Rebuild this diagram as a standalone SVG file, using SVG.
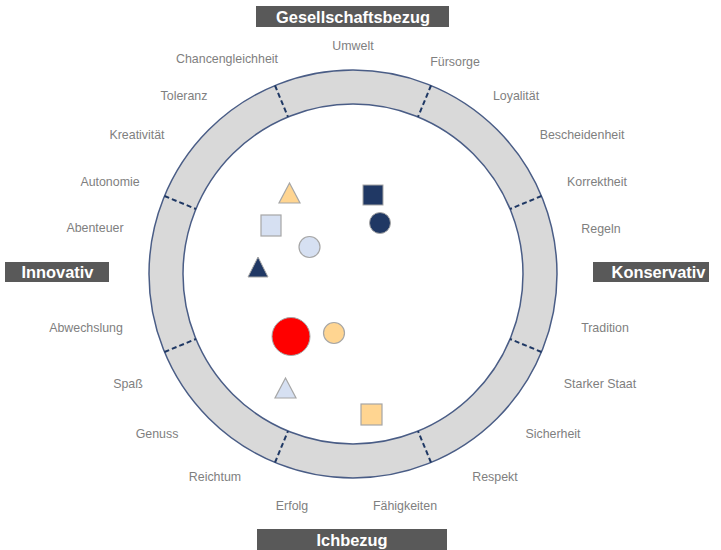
<svg xmlns="http://www.w3.org/2000/svg" width="721" height="550" viewBox="0 0 721 550">
<style>
.lbl{font-family:"Liberation Sans",Arial,sans-serif;font-size:12.4px;fill:#7F7F7F;text-anchor:middle}
.bar{fill:#595959}
.bt{font-family:"Liberation Sans",Arial,sans-serif;font-size:16.4px;font-weight:bold;fill:#FFFFFF;text-anchor:middle}
.div{stroke:#1F3864;stroke-width:2;stroke-dasharray:5 3;fill:none}
.lb{fill:#D6E0F2;stroke:#A6A6A6;stroke-width:1.2}
.or{fill:#FFD591;stroke:#A6A6A6;stroke-width:1.2}
.nv{fill:#203864;stroke:#A6A6A6;stroke-width:1}
</style>
<rect width="721" height="550" fill="#FFFFFF"/>
<g id="ring">
<path d="M353,70 A204,204 0 1,1 352.99,70 Z M353,104 A170,170 0 1,0 353.01,104 Z" fill="#D9D9D9" fill-rule="evenodd"/>
<circle cx="353" cy="274" r="204" fill="none" stroke="#4A5D86" stroke-width="1.5"/>
<circle cx="353" cy="274" r="170" fill="none" stroke="#4A5D86" stroke-width="1.5"/>
</g>
<g id="connectors">
<line class="div" x1="275" y1="85.5" x2="288" y2="116.9"/>
<line class="div" x1="431" y1="85.5" x2="418" y2="116.9"/>
<line class="div" x1="164.5" y1="196" x2="196" y2="209"/>
<line class="div" x1="541.5" y1="196" x2="510" y2="209"/>
<line class="div" x1="164.5" y1="352" x2="196" y2="339"/>
<line class="div" x1="541.5" y1="352" x2="510" y2="339"/>
<line class="div" x1="275" y1="462.5" x2="288" y2="431.1"/>
<line class="div" x1="431" y1="462.5" x2="418" y2="431.1"/>
</g>
<g id="labels">
<text class="lbl" x="353" y="50">Umwelt</text>
<text class="lbl" x="455" y="66">Fürsorge</text>
<text class="lbl" x="516" y="100">Loyalität</text>
<text class="lbl" x="582" y="139">Bescheidenheit</text>
<text class="lbl" x="597" y="186">Korrektheit</text>
<text class="lbl" x="601" y="233">Regeln</text>
<text class="lbl" x="605" y="332">Tradition</text>
<text class="lbl" x="600" y="388">Starker Staat</text>
<text class="lbl" x="553" y="438">Sicherheit</text>
<text class="lbl" x="495" y="481">Respekt</text>
<text class="lbl" x="405" y="510">Fähigkeiten</text>
<text class="lbl" x="292" y="510">Erfolg</text>
<text class="lbl" x="215" y="481">Reichtum</text>
<text class="lbl" x="157" y="438">Genuss</text>
<text class="lbl" x="128" y="388">Spaß</text>
<text class="lbl" x="86" y="332">Abwechslung</text>
<text class="lbl" x="95" y="232">Abenteuer</text>
<text class="lbl" x="110" y="186">Autonomie</text>
<text class="lbl" x="137" y="139">Kreativität</text>
<text class="lbl" x="184" y="100">Toleranz</text>
<text class="lbl" x="227" y="63">Chancengleichheit</text>
</g>
<g id="gesellschaftsbezug"><rect class="bar" x="256" y="6" width="193" height="21"/><text class="bt" x="353" y="22.5">Gesellschaftsbezug</text></g>
<g id="innovativ"><rect class="bar" x="5" y="262" width="104" height="20"/><text class="bt" x="57.5" y="278">Innovativ</text></g>
<g id="konservativ"><rect class="bar" x="593" y="262" width="116" height="20"/><text class="bt" x="658.5" y="278">Konservativ</text></g>
<g id="ichbezug"><rect class="bar" x="257" y="529" width="190" height="21"/><text class="bt" x="352" y="546">Ichbezug</text></g>
<g id="shape-orange-triangle"><polygon class="or" points="289.5,183 279,203 300,203"/></g>
<g id="shape-navy-square"><rect class="nv" x="363" y="185" width="20" height="20"/></g>
<g id="shape-lightblue-square"><rect class="lb" x="261" y="215" width="20" height="21"/></g>
<g id="shape-navy-circle"><circle class="nv" cx="380" cy="223" r="10.5"/></g>
<g id="shape-lightblue-circle"><circle class="lb" cx="309.5" cy="247" r="10.5"/></g>
<g id="shape-navy-triangle"><polygon class="nv" points="258,257 248,277 268,277"/></g>
<g id="shape-red-circle"><circle cx="291" cy="336.5" r="19" fill="#FF0000" stroke="#A6A6A6" stroke-width="1"/></g>
<g id="shape-orange-circle"><circle class="or" cx="334" cy="333" r="10.5"/></g>
<g id="shape-lightblue-triangle"><polygon class="lb" points="285.5,378 275,398 296,398"/></g>
<g id="shape-orange-square"><rect class="or" x="361" y="404" width="21" height="21"/></g>
</svg>
